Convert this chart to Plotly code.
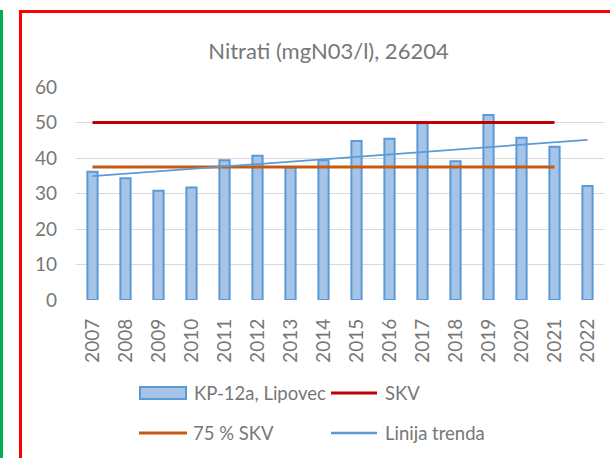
import plotly.graph_objects as go

years = ["2007", "2008", "2009", "2010", "2011", "2012", "2013", "2014",
         "2015", "2016", "2017", "2018", "2019", "2020", "2021", "2022"]
nitrati = [36.1, 34.3, 30.8, 31.7, 39.4, 40.6, 37.3, 39.4,
           44.8, 45.4, 49.8, 39.1, 52.1, 45.7, 43.2, 32.1]
skv_years = ["2007", "2008", "2009", "2010", "2011", "2012", "2013", "2014",
             "2015", "2016", "2017", "2018", "2019", "2020", "2021"]
skv = [50, 50, 50, 50, 50, 50, 50, 50, 50, 50, 50, 50, 50, 50, 50]
skv75 = [37.5, 37.5, 37.5, 37.5, 37.5, 37.5, 37.5, 37.5,
         37.5, 37.5, 37.5, 37.5, 37.5, 37.5, 37.5]
trend_years = ["2007", "2022"]
trend = [34.9, 45.1]
y_ticks = [0, 10, 20, 30, 40, 50, 60]

FONT = "Lato"
TXT = "#777777"
BAR_FILL = "#a6c4e8"
BAR_LINE = "#5b9bd5"
RED = "#c00000"
ORANGE = "#c55a11"
TREND = "#5b9bd5"

W, H = 610, 458
ML, MR, MT, MB = 76, 6, 87, 158
PW, PH = W - ML - MR, H - MT - MB


def px(x):
    return (x - ML) / PW


def py(y):
    return (H - MB - y) / PH


fig = go.Figure()
fig.add_trace(go.Bar(x=years, y=nitrati, name="KP-12a, Lipovec", width=0.31,
                     marker=dict(color=BAR_FILL, line=dict(color=BAR_LINE, width=2)),
                     showlegend=False))
fig.add_trace(go.Scatter(x=skv_years, y=skv, name="SKV", mode="lines",
                         line=dict(color=RED, width=3), showlegend=False))
fig.add_trace(go.Scatter(x=skv_years, y=skv75, name="75 % SKV", mode="lines",
                         line=dict(color=ORANGE, width=3), showlegend=False))
fig.add_trace(go.Scatter(x=trend_years, y=trend, name="Linija trenda", mode="lines",
                         line=dict(color=TREND, width=1.8), showlegend=False))

shapes = []
annotations = []
# frame lines of the screenshot
shapes.append(dict(type="line", xref="paper", yref="paper", x0=px(1.5), x1=px(1.5),
                   y0=py(10), y1=py(460), line=dict(color="#00b050", width=3)))
shapes.append(dict(type="line", xref="paper", yref="paper", x0=px(20.5), x1=px(20.5),
                   y0=py(11.5), y1=py(460), line=dict(color="#ff0000", width=3)))
shapes.append(dict(type="line", xref="paper", yref="paper", x0=px(19), x1=px(612),
                   y0=py(11.5), y1=py(11.5), line=dict(color="#ff0000", width=3)))

# custom legend
legend_items = [
    ("rect", BAR_FILL, BAR_LINE, 140, 186, 393, "KP-12a, Lipovec", 192),
    ("line", RED, None, 331, 377, 393, "SKV", 383),
    ("line", ORANGE, None, 139, 187, 433, "75 % SKV", 191),
    ("line", TREND, None, 331, 377, 433, "Linija trenda", 383),
]
for kind, col, lcol, x0, x1, yc, label, tx in legend_items:
    if kind == "rect":
        shapes.append(dict(type="rect", xref="paper", yref="paper",
                           x0=px(x0), x1=px(x1), y0=py(yc - 6), y1=py(yc + 6),
                           fillcolor=col, line=dict(color=lcol, width=2)))
    else:
        shapes.append(dict(type="line", xref="paper", yref="paper",
                           x0=px(x0), x1=px(x1), y0=py(yc), y1=py(yc),
                           line=dict(color=col, width=3 if col != TREND else 2.5)))
    annotations.append(dict(text=label, xref="paper", yref="paper", x=px(tx), y=py(yc),
                            xanchor="left", yanchor="middle", showarrow=False,
                            font=dict(family=FONT, size=18.5, color=TXT)))

fig.update_layout(
    width=W, height=H,
    margin=dict(l=ML, r=MR, t=MT, b=MB, pad=0),
    paper_bgcolor="white", plot_bgcolor="white",
    title=dict(text="Nitrati (mgN03/l), 26204", xref="container", yref="container",
               x=328.5 / W, xanchor="center", y=1 - 51 / H, yanchor="middle",
               font=dict(family=FONT, size=22, color=TXT)),
    xaxis=dict(type="category", range=[-0.5, 15.5], showgrid=False, showline=False,
               zeroline=False, ticks="", tickangle=-90, ticklabelstandoff=14,
               tickfont=dict(family=FONT, size=19, color=TXT)),
    yaxis=dict(range=[0, 60], tickvals=y_ticks, showgrid=True, gridcolor="#d9d9d9",
               gridwidth=1, zeroline=False, showline=False, ticks="",
               ticklabelstandoff=18,
               tickfont=dict(family=FONT, size=19, color=TXT)),
    shapes=shapes, annotations=annotations, bargap=0.5,
)

fig.write_html("out.html", config={"displayModeBar": False},
               post_script="document.body.style.margin='0px';")
